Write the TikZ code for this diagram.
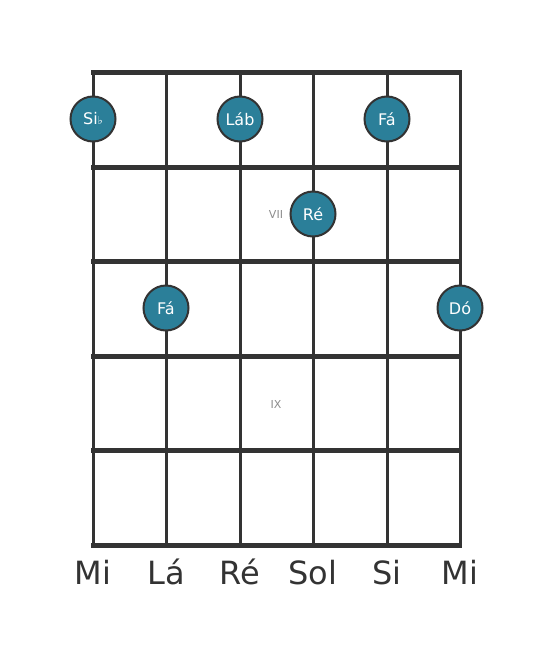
\documentclass[tikz,border=0pt]{standalone}
\usepackage{fontspec}
\setmainfont{DejaVu Sans}
\definecolor{notefill}{RGB}{43,127,153}
\definecolor{gridline}{RGB}{51,51,51}
\tikzset{
  note/.style={draw=gridline,line width=2pt,circle,fill=notefill,minimum size=45pt,inner sep=0pt,text=white,font=\fontsize{16}{16}\selectfont},
  fret/.style={gridline,line width=5pt},
  string/.style={gridline,line width=3pt},
  strname/.style={text=gridline,anchor=base,font=\fontsize{32}{32}\selectfont},
  fretnum/.style={text=gray!90,font=\fontsize{11}{11}\selectfont}
}
\begin{document}
\begin{tikzpicture}[x=1pt,y=-1pt]
  \useasboundingbox (0,0) rectangle (553,656);
  % strings
  \draw[string] (93,72) -- (93,545);
  \draw[string] (166,72) -- (166,545);
  \draw[string] (240,72) -- (240,545);
  \draw[string] (313,72) -- (313,545);
  \draw[string] (387,72) -- (387,545);
  \draw[string] (460,72) -- (460,545);
  % frets
  \draw[fret] (91,72) -- (462,72);
  \draw[fret] (91,167) -- (462,167);
  \draw[fret] (91,261) -- (462,261);
  \draw[fret] (91,356) -- (462,356);
  \draw[fret] (91,450) -- (462,450);
  \draw[fret] (91,545) -- (462,545);
  % fret numbers
  \node[fretnum] (vii) at (276,214) {VII};
  \node[fretnum] (ix) at (276,404) {IX};
  % notes
  \node[note] (sib) at (93,119) {Si{\fontsize{11}{11}\selectfont ♭}};
  \node[note] (lab) at (240,119) {Láb};
  \node[note] (fa1) at (387,119) {Fá};
  \node[note] (re) at (313,214) {Ré};
  \node[note] (fa2) at (166,308) {Fá};
  \node[note] (do) at (460,308) {Dó};
  % string names
  \node[strname] (s6) at (93,584) {Mi};
  \node[strname] (s5) at (166,584) {Lá};
  \node[strname] (s4) at (240,584) {Ré};
  \node[strname] (s3) at (313,584) {Sol};
  \node[strname] (s2) at (387,584) {Si};
  \node[strname] (s1) at (460,584) {Mi};
\end{tikzpicture}
\end{document}
